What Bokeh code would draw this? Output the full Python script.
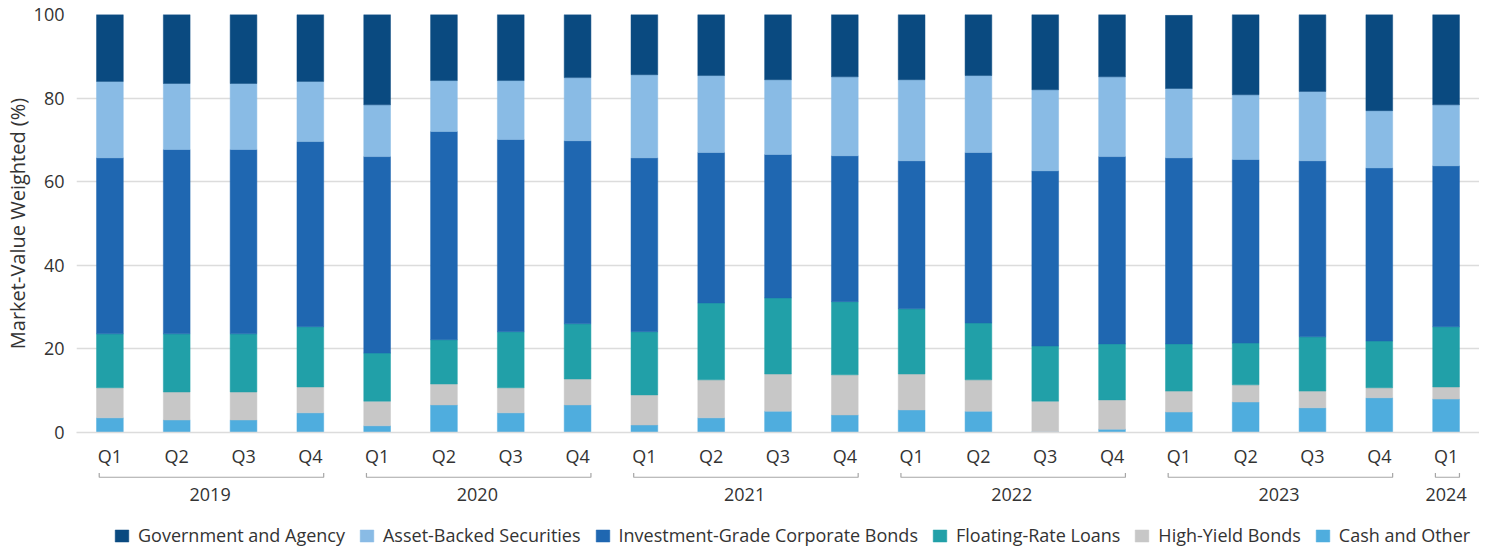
from bokeh.plotting import figure
from bokeh.layouts import column
from bokeh.models import (Range1d, LinearAxis, FixedTicker, Legend,
                          LegendItem, ColumnDataSource)
from bokeh.embed import file_html
from bokeh.resources import INLINE

# ---------------- data ----------------
years = ["2019"] * 4 + ["2020"] * 4 + ["2021"] * 4 + ["2022"] * 4 + ["2023"] * 4 + ["2024"]
quarters = ["Q1", "Q2", "Q3", "Q4"] * 5 + ["Q1"]

cash = [3.5, 3.0, 3.0, 4.7, 1.6, 6.6, 4.7, 6.6, 1.8, 3.5, 5.1, 4.2, 5.4, 5.1, 0.2, 0.8, 4.9, 7.3, 5.9, 8.3, 8.0]
high_yield = [7.2, 6.7, 6.7, 6.2, 5.9, 5.0, 6.0, 6.2, 7.2, 9.1, 8.9, 9.6, 8.6, 7.5, 7.3, 7.0, 5.0, 4.1, 4.0, 2.4, 2.9]
floating_rate = [12.9, 13.9, 13.9, 14.4, 11.5, 10.6, 13.4, 13.2, 15.1, 18.4, 18.2, 17.5, 15.6, 13.6, 13.2, 13.4, 11.3, 10.0, 13.0, 11.2, 14.4]
investment_grade = [42.1, 44.1, 44.1, 44.3, 47.0, 49.8, 46.0, 43.8, 41.6, 36.0, 34.3, 34.9, 35.4, 40.8, 41.9, 44.8, 44.5, 43.9, 42.1, 41.4, 38.5]
asset_backed = [18.3, 15.8, 15.8, 14.4, 12.4, 12.2, 14.1, 15.1, 19.9, 18.4, 17.9, 18.9, 19.4, 18.4, 19.4, 19.1, 16.6, 15.5, 16.6, 13.7, 14.6]
government = [16.0, 16.5, 16.5, 16.0, 21.6, 15.8, 15.8, 15.1, 14.4, 14.6, 15.6, 14.9, 15.6, 14.6, 18.0, 14.9, 17.5, 19.2, 18.4, 23.0, 21.6]

series_names = ["Cash and Other", "High-Yield Bonds", "Floating-Rate Loans",
                "Investment-Grade Corporate Bonds", "Asset-Backed Securities",
                "Government and Agency"]
y_ticks = [0, 20, 40, 60, 80, 100]
y_title = "Market-Value Weighted (%)"

# ---------------- styles ----------------
colors = ["#4fadde", "#c7c7c7", "#21a0a8", "#1f67b1", "#89bbe5", "#0a4a80"]
TEXT = "#333333"
FONT = "Open Sans"
GRID = "#dcdcdc"
BRACKET = "#a6a6a6"
BR_Y = -10.7      # bracket base (data units, below the frame)
BR_TICK = 1.0     # bracket end tick length
W = 1479

n_cat = len(quarters)
xpos = [i + 0.5 for i in range(n_cat)]          # category centres on the x scale
keys = ["cash", "high_yield", "floating_rate", "investment_grade", "asset_backed", "government"]
src = ColumnDataSource(dict(x=xpos, cash=cash, high_yield=high_yield,
                            floating_rate=floating_rate, investment_grade=investment_grade,
                            asset_backed=asset_backed, government=government))

p = figure(x_range=Range1d(0, n_cat), y_range=Range1d(0, 100), width=W, height=520,
           output_backend="svg", toolbar_location=None, x_axis_type=None,
           min_border_top=14, min_border_bottom=88, min_border_right=0, min_border_left=0)
p.outline_line_color = None
p.background_fill_color = "white"

rs = p.vbar_stack(keys, x="x", width=0.4, source=src, fill_color=colors,
                  line_color=colors, line_width=0.5)

# y axis
p.yaxis.ticker = FixedTicker(ticks=y_ticks)
p.yaxis.axis_label = y_title
p.yaxis.axis_label_text_font = FONT
p.yaxis.axis_label_text_font_size = "20px"
p.yaxis.axis_label_text_font_style = "normal"
p.yaxis.axis_label_text_color = TEXT
p.yaxis.axis_label_standoff = 0
p.yaxis.major_label_text_font = FONT
p.yaxis.major_label_text_font_size = "18px"
p.yaxis.major_label_text_color = TEXT
p.yaxis.major_label_standoff = 6
p.yaxis.axis_line_color = None
p.yaxis.major_tick_line_color = None
p.yaxis.minor_tick_line_color = None

p.ygrid.ticker = FixedTicker(ticks=y_ticks)
p.ygrid.grid_line_color = GRID
p.ygrid.grid_line_width = 1.5

# quarter axis
xa = LinearAxis(ticker=FixedTicker(ticks=xpos),
                major_label_overrides={x: q for x, q in zip(xpos, quarters)},
                major_label_text_font=FONT, major_label_text_font_size="18px",
                major_label_text_color=TEXT, major_label_standoff=5,
                axis_line_color=GRID, axis_line_width=1.5,
                major_tick_line_color=None, minor_tick_line_color=None)
p.add_layout(xa, "below")

# year axis (groups)
groups = []
for i, y in enumerate(years):
    if not groups or groups[-1][0] != y:
        groups.append([y, i, 0])
    groups[-1][2] += 1
centers = [s + n / 2 for _, s, n in groups]
ya = LinearAxis(ticker=FixedTicker(ticks=centers),
                major_label_overrides={c: g[0] for c, g in zip(centers, groups)},
                axis_line_color=None, major_tick_line_color=None,
                minor_tick_line_color=None, major_label_standoff=11,
                major_label_text_font=FONT, major_label_text_font_size="18px",
                major_label_text_color=TEXT)
p.add_layout(ya, "below")

# brackets
bxs, bys = [], []
for _, s, n in groups:
    x0 = s + 0.5 - 0.16
    x1 = s + n - 0.5 + 0.2
    bxs.append([x0, x0, x1, x1])
    bys.append([BR_Y + BR_TICK, BR_Y, BR_Y, BR_Y + BR_TICK])
p.multi_line(xs=bxs, ys=bys, line_color=BRACKET, line_width=1.2, level="overlay")

# legend strip (separate figure so the legend is not clipped); its stacked
# renderers reuse the same data but lie outside the strip's visible range
lf = figure(x_range=Range1d(-3, -2), y_range=Range1d(0, 1), width=W, height=28,
            output_backend="svg", toolbar_location=None,
            x_axis_type=None, y_axis_type=None, min_border=0)
lf.outline_line_color = None
lf.background_fill_color = "white"
lrs = lf.vbar_stack(keys, x="x", width=0.4, source=src, fill_color=colors,
                    line_color=colors, line_width=0.5)
items = [LegendItem(label=n, renderers=[r]) for n, r in zip(series_names[::-1], lrs[::-1])]
legend = Legend(items=items, orientation="horizontal", location=(37, 1),
                glyph_width=17, glyph_height=15, label_standoff=8, spacing=13,
                padding=0, margin=0, border_line_color=None,
                background_fill_alpha=0,
                label_text_font=FONT, label_text_font_size="18px",
                label_text_color=TEXT)
lf.add_layout(legend)

open("out.html", "w").write(file_html(column(p, lf, spacing=0), INLINE))
